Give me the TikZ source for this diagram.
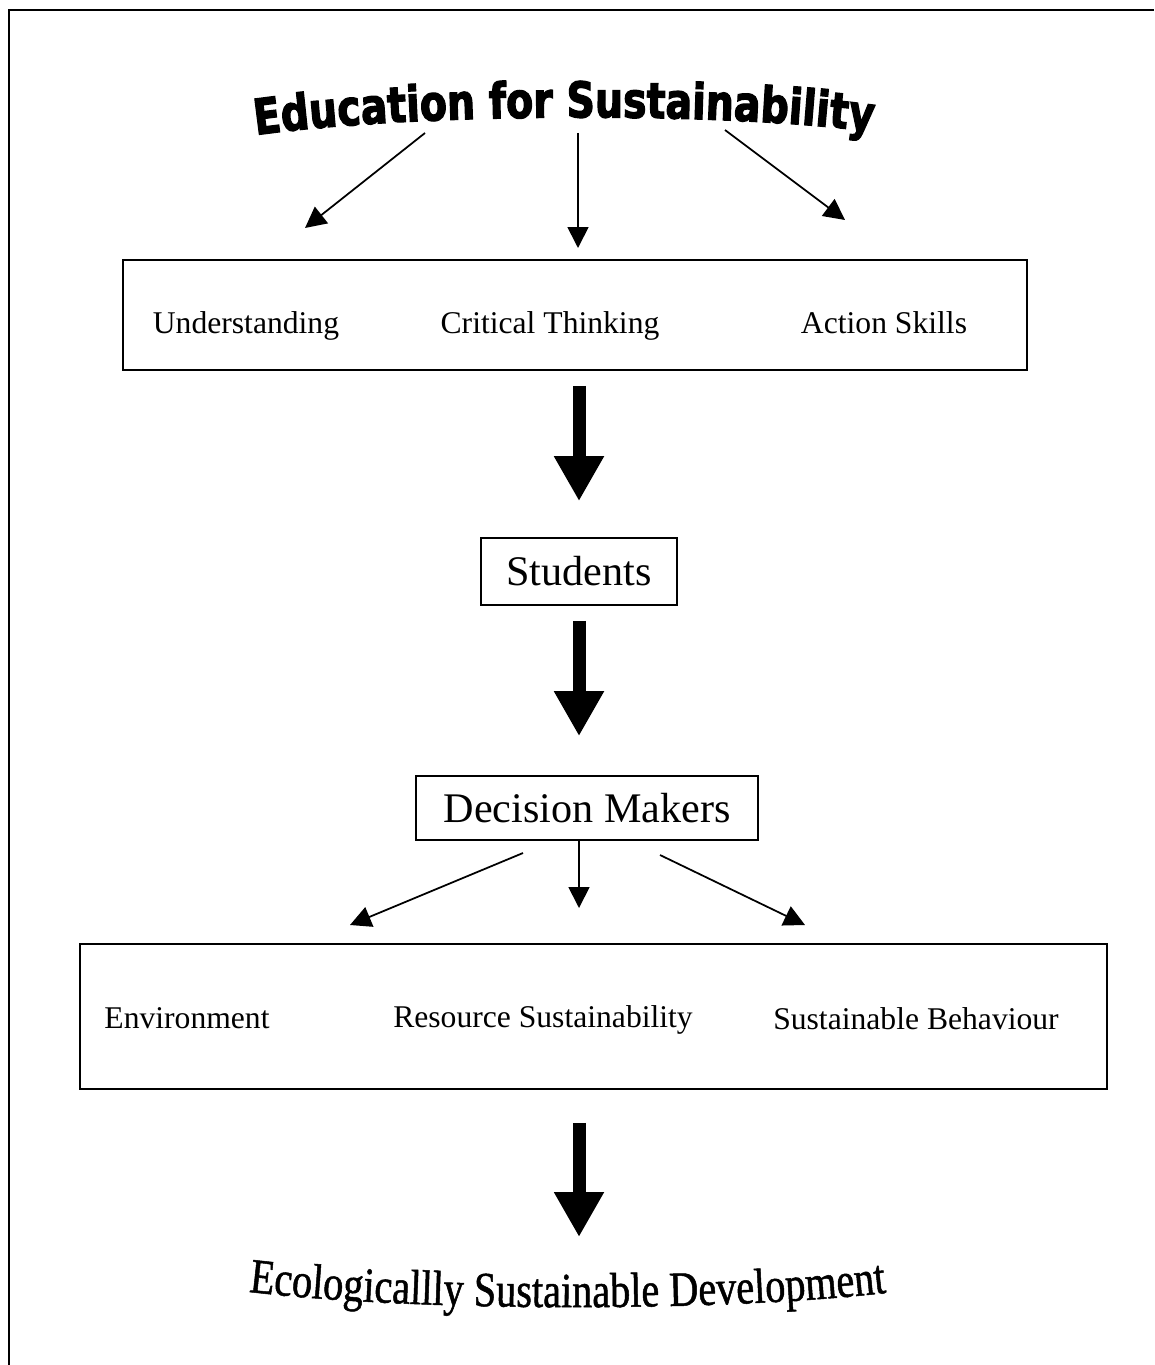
\documentclass[tikz,border=0pt]{standalone}
\usepackage{fontspec}
\setmainfont{Liberation Serif}
\newfontfamily\titlefont[FakeStretch=0.8,FakeBold=2.5]{DejaVu Sans}
\newfontfamily\esdfont[FakeStretch=0.82,FakeBold=1]{Liberation Serif}
\usetikzlibrary{arrows.meta,decorations.text}

\tikzset{
  box/.style={draw, line width=1pt, rectangle, inner sep=0pt},
  label18/.style={font=\fontsize{18}{21}\selectfont, anchor=base},
  label24/.style={font=\fontsize{24}{28}\selectfont},
  thinarrow/.style={-{Triangle[length=0.42cm,width=0.42cm]}, line width=1pt},
  bigarrow/.style={-{Triangle[length=0.9cm,width=0.94cm]}, line width=7.4pt}
}

\begin{document}
\begin{tikzpicture}[x=0.02cm,y=0.02cm]
  \useasboundingbox (0,0) rectangle (1154,-1365);

  % frame
  \draw[line width=1.2pt] (9,-1365) -- (9,-10) -- (1154,-10);

  % title along an arch
  \path[decorate, decoration={text along path, text align=center,
      text={|\titlefont\bfseries\fontsize{28}{30}\selectfont|Education for Sustainability}}]
    (256,-135) .. controls (420,-112) and (730,-112) .. (872,-132);
  \coordinate (eduL) at (425,-133);
  \coordinate (eduM) at (578,-133);
  \coordinate (eduR) at (725,-130);

  % first box
  \node (skills) [box, minimum width=18.08cm, minimum height=2.2cm] at (575,-315) {};
  \node (under)  [label18] at (246,-333) {Understanding};
  \node (crit)   [label18] at (550,-333) {Critical Thinking};
  \node (action) [label18] at (884,-333) {Action Skills};

  \coordinate (inL) at (305,-228);
  \coordinate (inM) at (578,-248);
  \coordinate (inR) at (845,-220);
  \draw [thinarrow] (eduL) -- (inL);
  \draw [thinarrow] (eduM) -- (inM);
  \draw [thinarrow] (eduR) -- (inR);

  % students and decision makers
  \node (students) [box, minimum width=3.92cm, minimum height=1.34cm, label24] at (579,-571.5) {Students};
  \node (decision) [box, minimum width=6.84cm, minimum height=1.28cm, label24] at (587,-808) {Decision Makers};

  \draw [bigarrow, shorten <=0.3cm, shorten >=0.72cm] (skills.south -| students) -- (students.north);
  \draw [bigarrow, shorten <=0.3cm, shorten >=0.78cm] (students.south) -- (students.south |- decision.north);

  % outcomes box
  \node (outcome) [box, minimum width=20.54cm, minimum height=2.9cm] at (593.5,-1016.5) {};
  \node (env)   [label18] at (187,-1028) {Environment};
  \node (res)   [label18] at (543,-1027) {Resource Sustainability};
  \node (behav) [label18] at (916,-1029) {Sustainable Behaviour};

  \coordinate (decL) at (523,-853);
  \coordinate (decR) at (660,-855);
  \coordinate (outL) at (350,-925);
  \coordinate (outM) at (579,-908);
  \coordinate (outR) at (805,-925);
  \draw [thinarrow] (decL) -- (outL);
  \draw [thinarrow] (decision.south -| outM) -- (outM);
  \draw [thinarrow] (decR) -- (outR);

  % final goal
  \coordinate (esdtop) at (579,-1237);
  \draw [bigarrow, shorten <=0.66cm] (outcome.south -| esdtop) -- (esdtop);
  \path[decorate, decoration={text along path, text align=center,
      text={|\esdfont\fontsize{28}{30}\selectfont|Ecologicallly Sustainable Development}}]
    (250,-1292) .. controls (420,-1312) and (720,-1312) .. (885,-1293);
\end{tikzpicture}
\end{document}
